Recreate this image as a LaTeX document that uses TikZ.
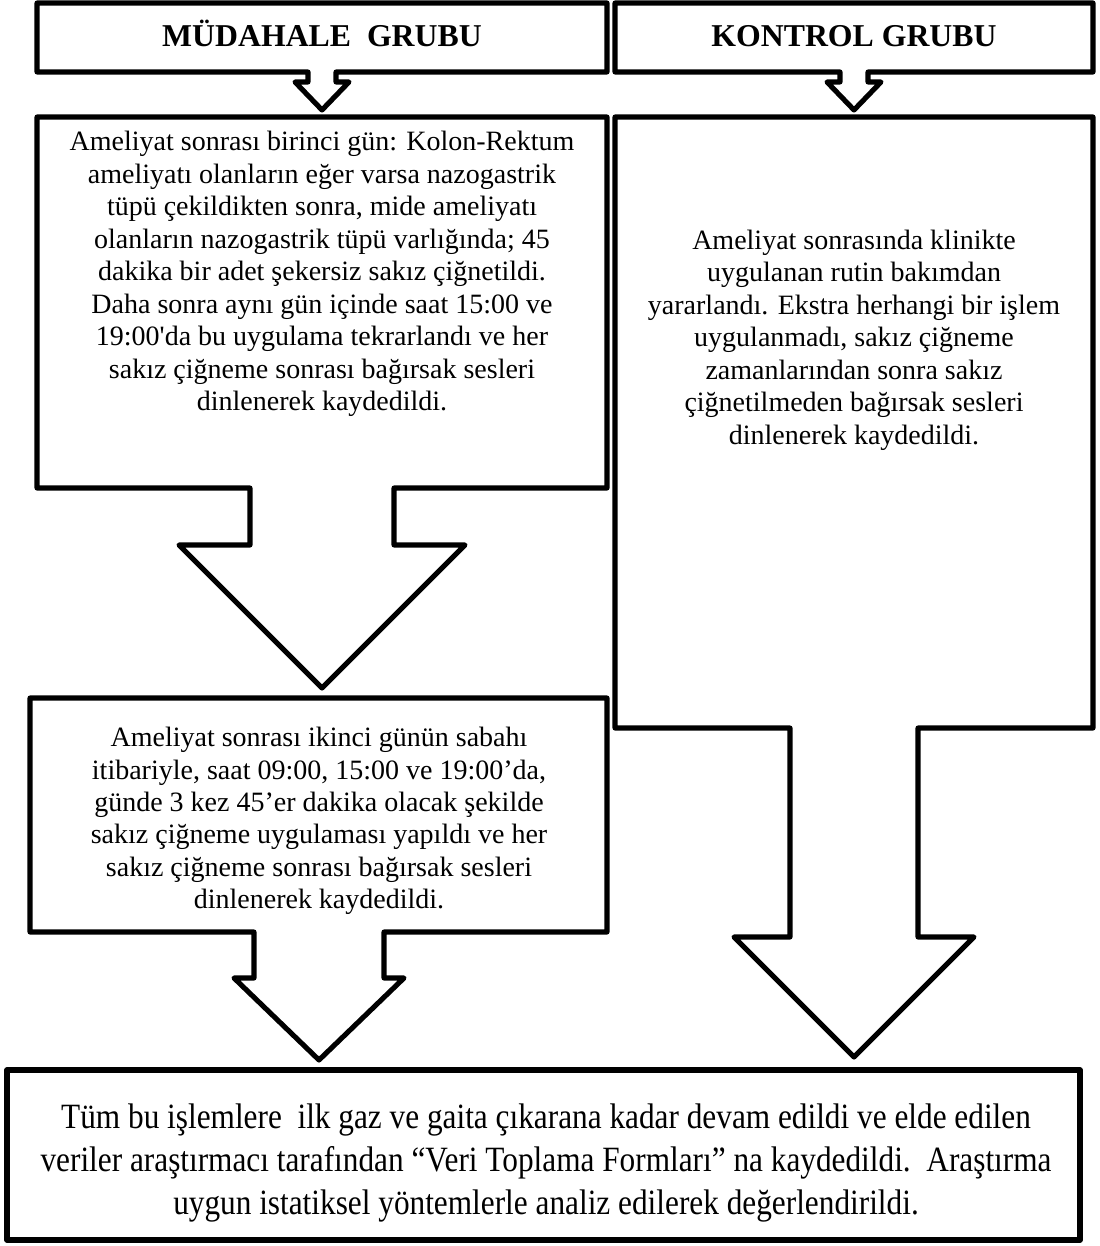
\documentclass[tikz,border=0pt]{standalone}
\usepackage{fontspec}
\setmainfont{Liberation Serif}
\newfontfamily\narrowserif[FakeStretch=0.88]{Liberation Serif}
\tikzset{
  outline/.style={line width=2.3pt, line join=round},
  boxtext/.style={align=center, inner sep=0pt, font=\fontsize{12.6}{14.6}\selectfont},
  headtext/.style={anchor=base, inner sep=0pt, font=\fontsize{14.3}{17}\selectfont\bfseries},
  endtext/.style={align=center, inner sep=0pt, font=\narrowserif\fontsize{16}{19.3}\selectfont}
}
% box with a down arrow under it:
% left, top, right, bottom, centre, stem half, head y, head half, tip y
\newcommand\downcallout[9]{%
  \draw[outline] (#1,#2) -- (#3,#2) -- (#3,#4) -- ({#5+#6},#4) -- ({#5+#6},#7)
    -- ({#5+#8},#7) -- (#5,#9) -- ({#5-#8},#7) -- ({#5-#6},#7) -- ({#5-#6},#4)
    -- (#1,#4) -- cycle;}
\begin{document}
\begin{tikzpicture}[x=0.45pt,y=-0.45pt]
  \useasboundingbox (0,0) rectangle (1099,1246);

  % outlines
  \downcallout{37}{3}{607}{72}{322}{14}{82}{27}{110}
  \downcallout{615}{3}{1093}{72}{854}{14}{82}{27}{110}
  \downcallout{37}{117}{607}{488}{322}{72}{545}{143}{688}
  \downcallout{615}{117}{1093}{728}{854}{64}{937}{120}{1057}
  \downcallout{30}{698}{607}{932}{319}{65}{978}{85}{1060}
  \draw[outline] (7,1070) rectangle (1080,1240);

  % texts
  \node[headtext] (mudahale) at (322,47) {MÜDAHALE\ \ GRUBU};
  \node[headtext] (kontrol) at (854,47) {KONTROL GRUBU};

  \node[boxtext] (gun1) at (322,274) {Ameliyat sonrası birinci gün: Kolon-Rektum\\
    ameliyatı olanların eğer varsa nazogastrik\\
    tüpü çekildikten sonra, mide ameliyatı\\
    olanların nazogastrik tüpü varlığında; 45\\
    dakika bir adet şekersiz sakız çiğnetildi.\\
    Daha sonra aynı gün içinde saat 15:00 ve\\
    19:00\textquotesingle da bu uygulama tekrarlandı ve her\\
    sakız çiğneme sonrası bağırsak sesleri\\
    dinlenerek kaydedildi.};

  \node[boxtext] (rutin) at (854,340) {Ameliyat sonrasında klinikte\\
    uygulanan rutin bakımdan\\
    yararlandı. Ekstra herhangi bir işlem\\
    uygulanmadı, sakız çiğneme\\
    zamanlarından sonra sakız\\
    çiğnetilmeden bağırsak sesleri\\
    dinlenerek kaydedildi.};

  \node[boxtext] (gun2) at (319,821) {Ameliyat sonrası ikinci günün sabahı\\
    itibariyle, saat 09:00, 15:00 ve 19:00’da,\\
    günde 3 kez 45’er dakika olacak şekilde\\
    sakız çiğneme uygulaması yapıldı ve her\\
    sakız çiğneme sonrası bağırsak sesleri\\
    dinlenerek kaydedildi.};

  \node[endtext] (sonuc) at (546,1163) {Tüm bu işlemlere\ \ ilk gaz ve gaita çıkarana kadar devam edildi ve elde edilen\\
    veriler araştırmacı tarafından “Veri Toplama Formları” na kaydedildi.\ \ Araştırma\\
    uygun istatiksel yöntemlerle analiz edilerek değerlendirildi.};
\end{tikzpicture}
\end{document}
